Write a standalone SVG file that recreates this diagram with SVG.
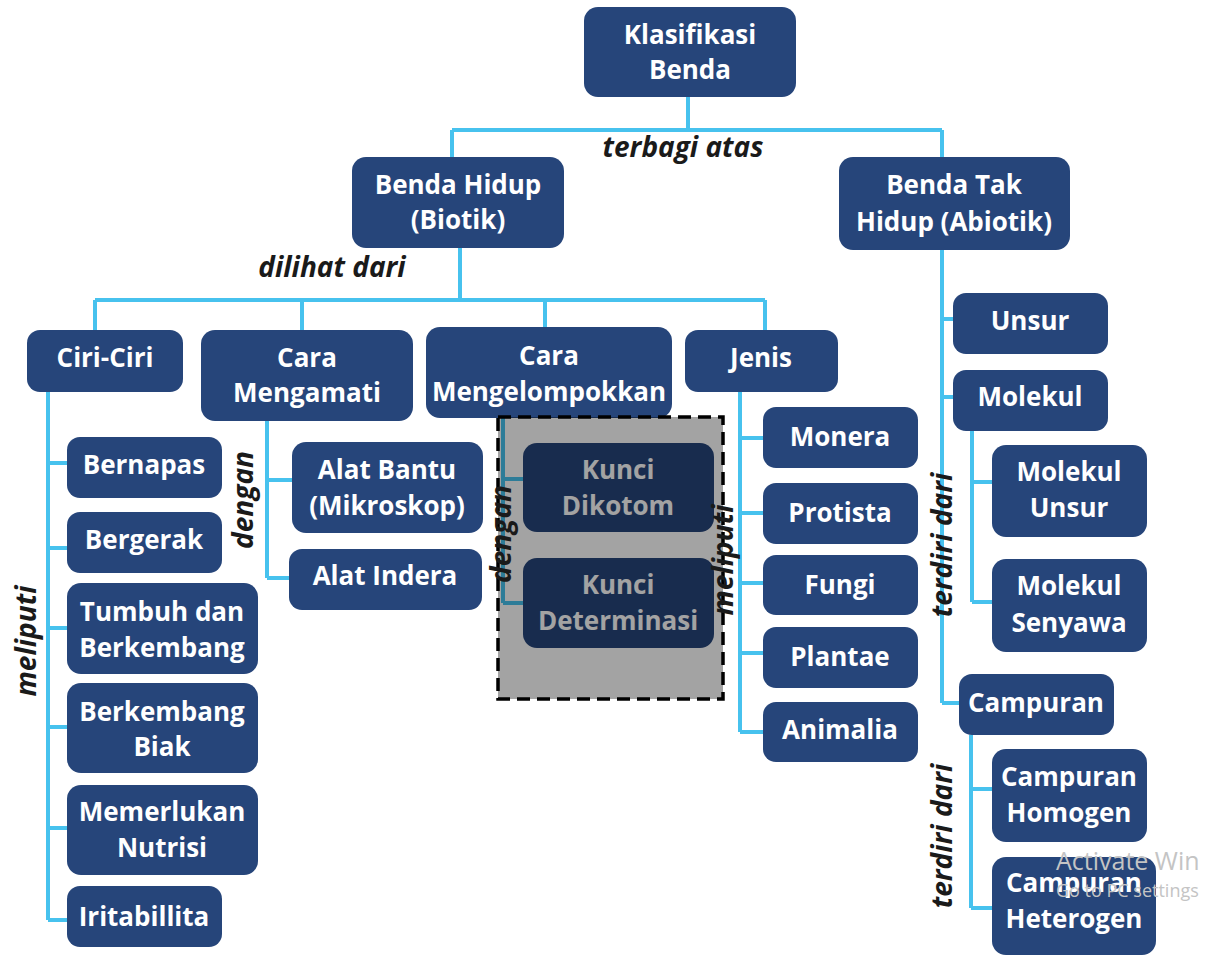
<svg xmlns="http://www.w3.org/2000/svg" width="1227" height="956" viewBox="0 0 1227 956">
<style>
.n rect{fill:#26457a;}
.n text{fill:#ffffff;font-family:"Open Sans","Noto Sans",sans-serif;font-weight:700;font-size:26px;text-anchor:middle;}
.c path{fill:none;stroke:#47c2ee;stroke-width:4;}
.lb{fill:#1a1a1a;font-family:"Open Sans","Noto Sans",sans-serif;font-weight:700;font-style:italic;font-size:28px;text-anchor:middle;}
.wm{fill:#c4c4c4;font-family:"Open Sans","Noto Sans",sans-serif;}
</style>
<rect width="1227" height="956" fill="#ffffff"/>
<g class="c" id="connectors">
<path d="M688 97V130M452 130H942M452 130V157M942 130V157"/>
<path d="M460 248V300M95 300H765M95 300V330M302 300V330M545 300V327M765 300V330"/>
<path d="M48 392V920M48 463H67M48 548H67M48 628H67M48 727H67M48 828H67M48 920H67"/>
<path d="M267 421V578M267 480H292M267 578H289"/>
<path d="M503 418V603M503 479H523M503 603H523"/>
<path d="M740 392V732M740 438H763M740 513H763M740 583H763M740 653H763M740 732H763"/>
<path d="M942 250V703M942 319H953M942 397H953M942 703H959"/>
<path d="M972 431V602M972 482H992M972 602H992"/>
<path d="M971 735V908M971 789H992M971 908H992"/>
</g>
<g class="n" id="klasifikasi"><rect x="584" y="7" width="212" height="90" rx="14"/><text x="690" y="44">Klasifikasi</text><text x="690" y="79">Benda</text></g>
<g class="n" id="hidup"><rect x="352" y="157" width="212" height="91" rx="14"/><text x="458" y="194">Benda Hidup</text><text x="458" y="229">(Biotik)</text></g>
<g class="n" id="takhidup"><rect x="839" y="157" width="231" height="93" rx="14"/><text x="954" y="194">Benda Tak</text><text x="954" y="231">Hidup (Abiotik)</text></g>
<g class="n" id="ciri"><rect x="27" y="330" width="156" height="62" rx="13"/><text x="105" y="367">Ciri-Ciri</text></g>
<g class="n" id="mengamati"><rect x="201" y="330" width="212" height="91" rx="14"/><text x="307" y="367">Cara</text><text x="307" y="402">Mengamati</text></g>
<g class="n" id="mengelompokkan"><rect x="426" y="327" width="246" height="91" rx="14"/><text x="549" y="365">Cara</text><text x="549" y="401">Mengelompokkan</text></g>
<g class="n" id="jenis"><rect x="685" y="330" width="153" height="62" rx="13"/><text x="761" y="367">Jenis</text></g>
<g class="n" id="bernapas"><rect x="67" y="437" width="155" height="61" rx="13"/><text x="144" y="474">Bernapas</text></g>
<g class="n" id="bergerak"><rect x="67" y="512" width="155" height="61" rx="13"/><text x="144" y="549">Bergerak</text></g>
<g class="n" id="tumbuh"><rect x="67" y="583" width="191" height="91" rx="14"/><text x="162" y="621">Tumbuh dan</text><text x="162" y="657">Berkembang</text></g>
<g class="n" id="biak"><rect x="67" y="683" width="191" height="90" rx="14"/><text x="162" y="721">Berkembang</text><text x="162" y="756">Biak</text></g>
<g class="n" id="nutrisi"><rect x="67" y="785" width="191" height="90" rx="14"/><text x="162" y="821">Memerlukan</text><text x="162" y="857">Nutrisi</text></g>
<g class="n" id="iritabillita"><rect x="67" y="886" width="155" height="61" rx="13"/><text x="144" y="926">Iritabillita</text></g>
<g class="n" id="alatbantu"><rect x="292" y="442" width="191" height="91" rx="14"/><text x="387" y="479">Alat Bantu</text><text x="387" y="515">(Mikroskop)</text></g>
<g class="n" id="alatindera"><rect x="289" y="549" width="193" height="61" rx="13"/><text x="385" y="585">Alat Indera</text></g>
<g class="n" id="dikotom"><rect x="523" y="443" width="191" height="89" rx="14"/><text x="618" y="479">Kunci</text><text x="618" y="515">Dikotom</text></g>
<g class="n" id="determinasi"><rect x="523" y="558" width="191" height="90" rx="14"/><text x="618" y="594">Kunci</text><text x="618" y="630">Determinasi</text></g>
<g class="n" id="monera"><rect x="763" y="407" width="155" height="61" rx="13"/><text x="840" y="446">Monera</text></g>
<g class="n" id="protista"><rect x="763" y="483" width="155" height="61" rx="13"/><text x="840" y="522">Protista</text></g>
<g class="n" id="fungi"><rect x="763" y="555" width="155" height="60" rx="13"/><text x="840" y="594">Fungi</text></g>
<g class="n" id="plantae"><rect x="763" y="627" width="155" height="61" rx="13"/><text x="840" y="666">Plantae</text></g>
<g class="n" id="animalia"><rect x="763" y="702" width="155" height="60" rx="13"/><text x="840" y="739">Animalia</text></g>
<g class="n" id="unsur"><rect x="953" y="293" width="155" height="61" rx="13"/><text x="1030" y="330">Unsur</text></g>
<g class="n" id="molekul"><rect x="953" y="370" width="155" height="61" rx="13"/><text x="1030" y="406">Molekul</text></g>
<g class="n" id="molekulunsur"><rect x="992" y="445" width="155" height="92" rx="14"/><text x="1069" y="481">Molekul</text><text x="1069" y="517">Unsur</text></g>
<g class="n" id="molekulsenyawa"><rect x="992" y="559" width="155" height="93" rx="14"/><text x="1069" y="595">Molekul</text><text x="1069" y="632">Senyawa</text></g>
<g class="n" id="campuran"><rect x="959" y="674" width="155" height="61" rx="13"/><text x="1036" y="712">Campuran</text></g>
<g class="n" id="homogen"><rect x="992" y="749" width="155" height="93" rx="14"/><text x="1069" y="786">Campuran</text><text x="1069" y="822">Homogen</text></g>
<g class="n" id="heterogen"><rect x="992" y="857" width="164" height="98" rx="14"/><text x="1074" y="892">Campuran</text><text x="1074" y="928">Heterogen</text></g>
<g id="overlay"><rect x="498" y="417" width="225" height="282" fill="#000000" fill-opacity="0.36" stroke="#000000" stroke-width="3.5" stroke-dasharray="13 7"/></g>
<g id="labels">
<text class="lb" x="683" y="157">terbagi atas</text>
<text class="lb" x="332" y="277">dilihat dari</text>
<text class="lb" font-size="29" transform="translate(36 641) rotate(-90)">meliputi</text>
<text class="lb" font-size="30" transform="translate(253 500) rotate(-90)">dengan</text>
<text class="lb" font-size="30" transform="translate(511 534) rotate(-90)">dengan</text>
<text class="lb" font-size="29" transform="translate(733 560) rotate(-90)">meliputi</text>
<text class="lb" transform="translate(952 545) rotate(-90)">terdiri dari</text>
<text class="lb" transform="translate(952 836) rotate(-90)">terdiri dari</text>
</g>
<g id="watermark">
<text class="wm" x="1056" y="870" font-size="25">Activate Win</text>
<text class="wm" x="1056" y="897" font-size="18">Go to PC settings</text>
</g>
</svg>
